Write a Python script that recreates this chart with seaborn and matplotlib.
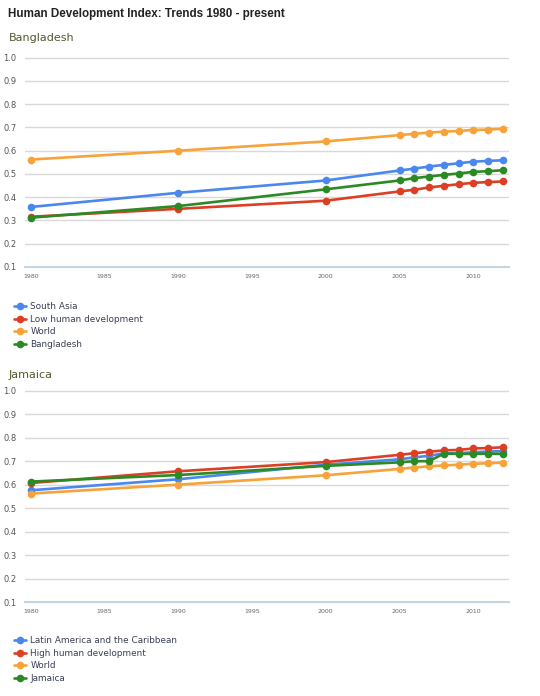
import matplotlib
matplotlib.use("Agg")
import matplotlib.pyplot as plt
import seaborn as sns
import pandas as pd

years = [1980, 1990, 2000, 2005, 2006, 2007, 2008, 2009, 2010, 2011, 2012]

# Bangladesh panel
south_asia = [0.358, 0.419, 0.472, 0.515, 0.523, 0.532, 0.539, 0.546, 0.553, 0.556, 0.559]
low_hd = [0.316, 0.350, 0.385, 0.425, 0.432, 0.442, 0.449, 0.456, 0.462, 0.465, 0.468]
world = [0.562, 0.600, 0.640, 0.667, 0.673, 0.678, 0.682, 0.685, 0.689, 0.691, 0.694]
bangladesh = [0.312, 0.362, 0.434, 0.472, 0.482, 0.489, 0.496, 0.502, 0.509, 0.512, 0.516]

# Jamaica panel
lac = [0.576, 0.623, 0.685, 0.708, 0.716, 0.723, 0.733, 0.734, 0.738, 0.741, 0.743]
high_hd = [0.607, 0.657, 0.696, 0.727, 0.734, 0.740, 0.746, 0.748, 0.754, 0.756, 0.759]
jamaica = [0.613, 0.641, 0.680, 0.695, 0.700, 0.700, 0.732, 0.731, 0.731, 0.732, 0.731]

panel1_names = ["South Asia", "Low human development", "World", "Bangladesh"]
panel2_names = ["Latin America and the Caribbean", "High human development", "World", "Jamaica"]
x_ticks = [1980, 1985, 1990, 1995, 2000, 2005, 2010]
y_ticks = [0.1, 0.2, 0.3, 0.4, 0.5, 0.6, 0.7, 0.8, 0.9, 1.0]

colors = ["#4a87ee", "#dc3f24", "#f8a23a", "#2b8a24"]

sns.set_theme(style="white")
plt.rcParams["font.family"] = ["DejaVu Sans"]

fig = plt.figure(figsize=(5.4, 6.96), dpi=100)


def make_df(names, series):
    rows = []
    for n, s in zip(names, series):
        for y, v in zip(years, s):
            rows.append({"year": y, "hdi": v, "series": n})
    return pd.DataFrame(rows)


def draw_panel(rect, names, series, legend_y):
    ax = fig.add_axes(rect)
    df = make_df(names, series)
    sns.lineplot(data=df, x="year", y="hdi", hue="series", hue_order=names,
                 palette=colors, marker="o", markersize=5.5, markeredgewidth=0,
                 linewidth=1.9, ax=ax, legend=True)
    ax.set_xlim(1979.6, 2012.4)
    ax.set_ylim(0.1, 1.003)
    ax.set_yticks(y_ticks)
    ax.set_yticklabels([f"{t:.1f}" for t in y_ticks], fontsize=6, color="#555555")
    ax.set_xticks(x_ticks)
    ax.set_xticklabels([str(t) for t in x_ticks], fontsize=4.5, color="#666666")
    ax.tick_params(axis="y", length=0, pad=6)
    ax.tick_params(axis="x", length=3, width=0.8, color="#c6d4e2", pad=2, direction="out")
    ax.set_xlabel("")
    ax.set_ylabel("")
    for s in ["top", "right", "left"]:
        ax.spines[s].set_visible(False)
    ax.spines["bottom"].set_color("#c6d4e2")
    ax.spines["bottom"].set_linewidth(1.5)
    for t in y_ticks[1:]:
        ax.axhline(t, color="#d9d9d9", linewidth=1, zorder=0)
    handles, labels = ax.get_legend_handles_labels()
    ax.get_legend().remove()
    fig.legend(handles, labels, loc="upper left", bbox_to_anchor=(14 / 540, legend_y),
               frameon=False, fontsize=6.4, handlelength=1.4, handletextpad=0.45,
               labelspacing=0.42, borderaxespad=0, labelcolor="#3a3f55",
               borderpad=0)
    return ax


draw_panel([0.046, 0.6164, 0.896, 0.3017],
           panel1_names, [south_asia, low_hd, world, bangladesh], 1 - 302 / 696)
draw_panel([0.046, 0.135, 0.896, 0.3046],
           panel2_names, [lac, high_hd, world, jamaica], 1 - 636 / 696)

fig.text(8 / 540, 1 - 14 / 696, "Human Development Index: Trends 1980 - present",
         fontsize=8.4, fontweight="bold", color="#222222", va="center", ha="left",
         family=["Liberation Sans"])
fig.text(9 / 540, 1 - 38 / 696, "Bangladesh", fontsize=8, color="#4f5a2c",
         va="center", ha="left")
fig.text(9 / 540, 1 - 375 / 696, "Jamaica", fontsize=8, color="#4f5a2c",
         va="center", ha="left")

fig.savefig("out.png", dpi=100)
